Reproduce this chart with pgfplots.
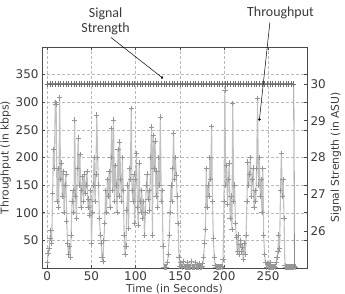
\documentclass[border=0pt]{standalone}
\usepackage{fontspec}
\setmainfont{DejaVu Sans}
\newfontfamily\calfont{Carlito}
\usepackage{pgfplots}
\pgfplotsset{compat=1.18}
\usetikzlibrary{arrows.meta}
\definecolor{axgray}{HTML}{4A4A4A}
\definecolor{txtgray}{HTML}{3A3A3A}
\definecolor{thrline}{HTML}{C0C0C0}
\definecolor{thrmark}{HTML}{969696}
\definecolor{sigline}{HTML}{8A8A8A}
\definecolor{sigmark}{HTML}{6E6E6E}
\begin{document}
\begin{tikzpicture}
\useasboundingbox (-42bp,-26bp) rectangle (303bp,268bp);
\begin{axis}[
  at={(0,0)}, anchor=south west, scale only axis,
  width=265bp, height=221bp,
  xmin=-6, xmax=294, ymin=0, ymax=400,
  xtick={0,50,...,250}, ytick={50,100,...,350},
  grid=major, grid style={densely dashed, gray!55, line width=0.5pt},
  axis line style={axgray, line width=0.9pt},
  tick style={axgray, line width=0.6pt}, major tick length=3pt,
  tick label style={font=\fontsize{12}{13}\selectfont, text=txtgray},
  /pgf/number format/assume math mode=true,
  xlabel={Time (in Seconds)}, ylabel={Throughput (in kbps)},
  label style={font=\fontsize{10.8}{12}\selectfont, text=txtgray},
  xlabel style={yshift=3bp},
  ylabel style={yshift=-2bp},
]
\addplot[thrline, line width=1.1pt, mark=+, mark size=2.7pt, mark options={thrmark, line width=0.7pt}]
 table[row sep=\\] {t v\\
0 10\\ 1 27\\ 2 35\\ 3 54\\ 4 68\\ 5 45\\ 6 135\\ 7 215\\ 8 180\\ 9 300\\
10 297\\ 11 120\\ 12 180\\ 13 110\\ 14 308\\ 15 160\\ 16 190\\ 17 130\\ 18 175\\ 19 100\\
20 150\\ 21 170\\ 22 85\\ 23 45\\ 24 25\\ 25 40\\ 26 20\\ 27 60\\ 28 120\\ 29 140\\
30 100\\ 31 268\\ 32 130\\ 33 90\\ 34 180\\ 35 235\\ 36 150\\ 37 205\\ 38 110\\ 39 140\\
40 165\\ 41 120\\ 42 170\\ 43 135\\ 44 150\\ 45 175\\ 46 110\\ 47 125\\ 48 95\\ 49 140\\
50 45\\ 51 100\\ 52 150\\ 53 200\\ 54 120\\ 55 170\\ 56 277\\ 57 200\\ 58 150\\ 59 90\\
60 60\\ 61 45\\ 62 20\\ 63 12\\ 64 50\\ 65 80\\ 66 140\\ 67 100\\ 68 160\\ 69 130\\
70 175\\ 71 110\\ 72 200\\ 73 252\\ 74 140\\ 75 268\\ 76 120\\ 77 185\\ 78 150\\ 79 100\\
80 215\\ 81 130\\ 82 228\\ 83 160\\ 84 120\\ 85 200\\ 86 140\\ 87 60\\ 88 24\\ 89 40\\
90 105\\ 91 150\\ 92 72\\ 93 180\\ 94 160\\ 95 289\\ 96 140\\ 97 120\\ 98 170\\ 99 80\\
100 160\\ 101 207\\ 102 110\\ 103 78\\ 104 190\\ 105 120\\ 106 100\\ 107 140\\ 108 90\\ 109 120\\
110 60\\ 111 100\\ 112 150\\ 113 170\\ 114 125\\ 115 140\\ 116 105\\ 117 200\\ 118 255\\ 119 60\\
120 240\\ 121 180\\ 122 230\\ 123 130\\ 124 175\\ 125 110\\ 126 200\\ 127 150\\ 128 273\\ 129 120\\
130 140\\ 131 40\\ 132 2\\ 133 2\\ 134 2\\ 135 2\\ 136 10\\ 137 24\\ 138 60\\ 139 100\\
140 150\\ 141 120\\ 142 180\\ 143 244\\ 144 160\\ 145 200\\ 146 168\\ 147 130\\ 148 80\\ 149 20\\
150 3\\ 151 10\\ 152 3\\ 153 2\\ 154 12\\ 155 3\\ 156 2\\ 157 2\\ 158 2\\ 159 10\\
160 2\\ 161 2\\ 162 2\\ 163 12\\ 164 2\\ 165 2\\ 166 2\\ 167 2\\ 168 10\\ 169 2\\
170 2\\ 171 2\\ 172 8\\ 173 2\\ 174 2\\ 175 3\\ 176 8\\ 177 20\\ 178 45\\ 179 70\\
180 180\\ 181 110\\ 182 150\\ 183 130\\ 184 200\\ 185 160\\ 186 256\\ 187 120\\ 188 54\\ 189 20\\
190 5\\ 191 2\\ 192 2\\ 193 2\\ 194 2\\ 195 2\\ 196 2\\ 197 3\\ 198 2\\ 199 15\\
200 120\\ 201 322\\ 202 150\\ 203 186\\ 204 115\\ 205 160\\ 206 190\\ 207 90\\ 208 130\\ 209 70\\
210 298\\ 211 120\\ 212 150\\ 213 80\\ 214 56\\ 215 30\\ 216 60\\ 217 25\\ 218 42\\ 219 50\\
220 30\\ 221 37\\ 222 15\\ 223 45\\ 224 24\\ 225 60\\ 226 120\\ 227 192\\ 228 150\\ 229 170\\
230 200\\ 231 130\\ 232 160\\ 233 181\\ 234 110\\ 235 140\\ 236 120\\ 237 180\\ 238 307\\ 239 150\\
240 200\\ 241 130\\ 242 160\\ 243 100\\ 244 180\\ 245 60\\ 246 24\\ 247 10\\ 248 2\\ 249 8\\
250 2\\ 251 2\\ 252 10\\ 253 2\\ 254 2\\ 255 2\\ 256 2\\ 257 3\\ 258 2\\ 259 10\\
260 20\\ 261 30\\ 262 60\\ 263 35\\ 264 140\\ 265 207\\ 266 130\\ 267 160\\ 268 90\\ 269 5\\
270 2\\ 271 2\\ 272 2\\ 273 2\\ 274 2\\ 275 2\\ 276 2\\ 277 2\\ 278 2\\ 279 2\\
280 3\\ 281 2\\
};
\end{axis}
\begin{axis}[
  at={(0,0)}, anchor=south west, scale only axis,
  width=265bp, height=221bp,
  xmin=-6, xmax=294, ymin=25, ymax=31,
  axis x line=none, axis y line*=right,
  ytick={26,27,28,29,30},
  axis line style={axgray, line width=0.9pt},
  tick style={axgray, line width=0.6pt}, major tick length=3pt,
  tick label style={font=\fontsize{12}{13}\selectfont, text=txtgray},
  /pgf/number format/assume math mode=true,
  ylabel={Signal Strength (in ASU)},
  label style={font=\fontsize{10.8}{12}\selectfont, text=txtgray},
  ylabel style={yshift=2bp},
]
\addplot[sigline, line width=0.8pt, forget plot] table[row sep=\\] {t s\\ 279 30\\ 280 24\\};
\addplot[sigline, line width=0.8pt, mark=+, mark size=2.7pt, mark options={sigmark, line width=0.6pt}]
 table[row sep=\\] {t s\\
0 30\\ 3 30\\ 6 30\\ 9 30\\ 12 30\\ 15 30\\ 18 30\\ 21 30\\ 24 30\\ 27 30\\
30 30\\ 33 30\\ 36 30\\ 39 30\\ 42 30\\ 45 30\\ 48 30\\ 51 30\\ 54 30\\ 57 30\\
60 30\\ 63 30\\ 66 30\\ 69 30\\ 72 30\\ 75 30\\ 78 30\\ 81 30\\ 84 30\\ 87 30\\
90 30\\ 93 30\\ 96 30\\ 99 30\\ 102 30\\ 105 30\\ 108 30\\ 111 30\\ 114 30\\ 117 30\\
120 30\\ 123 30\\ 126 30\\ 129 30\\ 132 30\\ 135 30\\ 138 30\\ 141 30\\ 144 30\\ 147 30\\
150 30\\ 153 30\\ 156 30\\ 159 30\\ 162 30\\ 165 30\\ 168 30\\ 171 30\\ 174 30\\ 177 30\\
180 30\\ 183 30\\ 186 30\\ 189 30\\ 192 30\\ 195 30\\ 198 30\\ 201 30\\ 204 30\\ 207 30\\
210 30\\ 213 30\\ 216 30\\ 219 30\\ 222 30\\ 225 30\\ 228 30\\ 231 30\\ 234 30\\ 237 30\\
240 30\\ 243 30\\ 246 30\\ 249 30\\ 252 30\\ 255 30\\ 258 30\\ 261 30\\ 264 30\\ 267 30\\
270 30\\ 273 30\\ 276 30\\ 279 30\\
};
\coordinate (s0) at (axis cs:72,31.26);
\coordinate (s1) at (axis cs:131,30.15);
\coordinate (t0) at (axis cs:252,31.67);
\coordinate (t1) at (axis cs:240,29.0);
\coordinate (sl) at (axis cs:66,31.72);
\coordinate (tl) at (axis cs:264,31.92);
\end{axis}
\draw[black, line width=0.5pt, -{Circle[length=2.5pt]}] (s0) -- (s1);
\draw[black, line width=0.5pt, -{Circle[length=2.5pt]}] (t0) -- (t1);
\node[font=\calfont\fontsize{14}{14.5}\selectfont, text=txtgray, align=center] at ([yshift=-1bp]sl) {Signal\\Strength};
\node[font=\calfont\fontsize{14}{15}\selectfont, text=txtgray] at (tl) {Throughput};
\end{tikzpicture}
\end{document}
